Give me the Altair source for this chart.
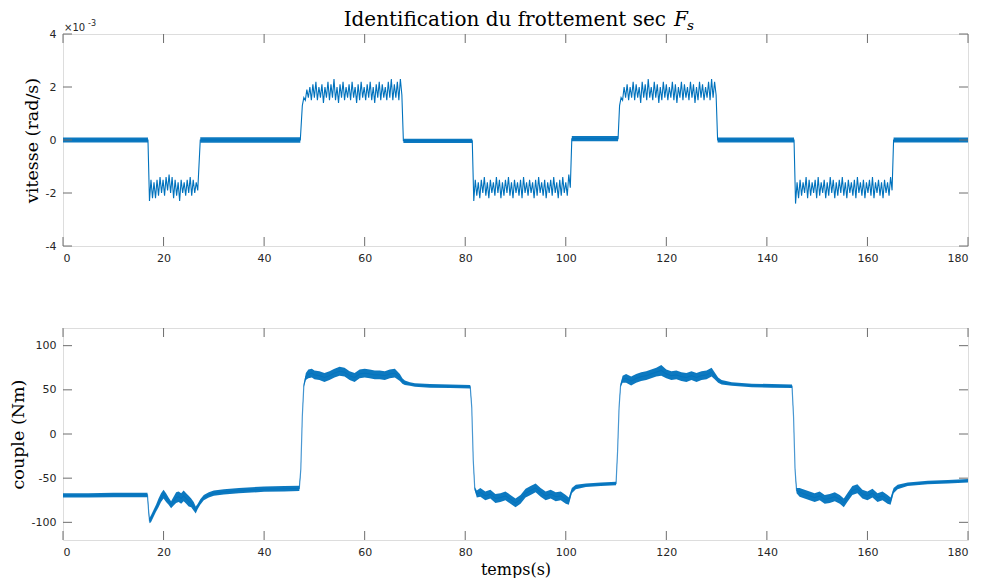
import altair as alt
import pandas as pd

BLUE = "#0072BD"
FRAME = "#6e6e6e"
LABEL = "#262626"
SERIF = "DejaVu Serif"
SANS = "DejaVu Sans"

# ---------------- data: top panel (vitesse, x 1e-3 rad/s) ----------------
x_ticks = [0, 20, 40, 60, 80, 100, 120, 140, 160, 180]
top_y_ticks = [-4, -2, 0, 2, 4]
bot_y_ticks = [-100, -50, 0, 50, 100]

quiet_start = [0.0, 27.3, 67.7, 101.2, 130.2, 165.2]
quiet_end = [16.9, 47.2, 81.4, 110.4, 145.4, 180.0]
quiet_level = [0.0, 0.0, -0.03, 0.05, 0.0, 0.0]
quiet_noise = [0.09, 0.1, 0.08, 0.1, 0.09, 0.09]

osc_step = 0.3
osc_start = [17.2, 47.6, 81.7, 110.7, 145.7]
osc_A = [-2.3, -1.5, -2.2, -1.6, -2.2, -1.5, -2.1, -1.4, -2.0, -1.5,
         -2.1, -1.4, -1.9, -1.3, -2.0, -1.4, -2.2, -1.5, -2.1, -1.6,
         -2.3, -1.5, -2.0, -1.6, -2.1, -1.5, -2.0, -1.4, -2.1, -1.5,
         -2.0, -1.6, -1.9]
osc_B = [1.3, 1.6, 1.5, 1.9, 1.6, 2.0, 1.5, 2.1, 1.6, 2.2,
         1.5, 2.0, 1.6, 2.1, 1.4, 2.0, 1.6, 2.2, 1.5, 2.1,
         1.6, 2.3, 1.5, 2.0, 1.4, 2.1, 1.6, 2.2, 1.5, 2.0,
         1.6, 2.1, 1.5, 2.2, 1.6, 2.0, 1.4, 2.1, 1.5, 2.2,
         1.6, 2.0, 1.5, 2.1, 1.6, 2.2, 1.5, 2.0, 1.4, 2.1,
         1.6, 2.2, 1.5, 2.1, 1.6, 2.0, 1.5, 2.2, 1.6, 2.3,
         1.5, 2.1, 1.6, 2.2, 1.5, 2.3, 1.7]
osc_C = [-2.3, -1.5, -2.1, -1.6, -2.2, -1.5, -2.0, -1.4, -2.1, -1.6,
         -2.2, -1.5, -2.0, -1.6, -2.1, -1.4, -2.0, -1.5, -2.2, -1.6,
         -2.1, -1.5, -2.0, -1.4, -2.1, -1.6, -2.2, -1.5, -2.0, -1.6,
         -2.1, -1.5, -2.2, -1.4, -2.0, -1.6, -2.1, -1.5, -2.0, -1.6,
         -2.2, -1.5, -2.1, -1.4, -2.0, -1.6, -2.1, -1.5, -2.2, -1.6,
         -2.0, -1.5, -2.1, -1.4, -2.0, -1.6, -2.2, -1.5, -2.1, -1.4,
         -2.0, -1.6, -2.1, -1.3, -1.8]
osc_D = [1.3, 1.6, 1.5, 2.0, 1.6, 2.1, 1.5, 2.0, 1.6, 2.2,
         1.5, 2.1, 1.6, 2.0, 1.4, 2.2, 1.6, 2.1, 1.5, 2.3,
         1.6, 2.0, 1.5, 2.2, 1.6, 2.1, 1.4, 2.0, 1.5, 2.2,
         1.6, 2.1, 1.5, 2.0, 1.6, 2.2, 1.5, 2.1, 1.4, 2.0,
         1.6, 2.2, 1.5, 2.1, 1.6, 2.0, 1.5, 2.2, 1.6, 2.1,
         1.4, 2.0, 1.5, 2.2, 1.6, 2.1, 1.5, 2.0, 1.6, 2.2,
         1.5, 2.3, 1.6, 2.2, 1.7]
osc_E = [-2.4, -1.6, -2.2, -1.5, -2.1, -1.6, -2.0, -1.4, -2.2, -1.5,
         -2.1, -1.6, -2.0, -1.5, -2.2, -1.4, -2.1, -1.6, -2.0, -1.5,
         -2.2, -1.6, -2.1, -1.4, -2.0, -1.5, -2.2, -1.6, -2.1, -1.5,
         -2.0, -1.4, -2.1, -1.6, -2.2, -1.5, -2.0, -1.6, -2.1, -1.5,
         -2.2, -1.4, -2.0, -1.6, -2.1, -1.5, -2.2, -1.6, -2.0, -1.5,
         -2.1, -1.4, -2.2, -1.6, -2.0, -1.5, -2.1, -1.6, -2.2, -1.5,
         -2.0, -1.6, -2.1, -1.4, -1.9]
osc_values = [osc_A, osc_B, osc_C, osc_D, osc_E]

# ---------------- data: bottom panel (couple, Nm) ----------------
cpl_t = [0, 5, 10, 16.8, 17.0, 17.2, 17.5, 18, 18.5, 19, 19.5, 20, 20.5, 21, 21.5,
         22, 22.5, 23, 23.5, 24, 24.5, 25, 25.5, 26, 26.4, 26.8, 27.3, 28, 29, 30,
         32, 35, 40, 44, 47.0, 47.3, 47.6, 47.9, 48.3, 48.8, 49.5, 50, 51, 52, 53,
         54, 55, 56, 57, 58, 59, 60, 61, 62, 63, 64, 65, 66, 67, 67.5, 68, 69, 70,
         73, 77, 81, 81.3, 81.6, 81.9, 82.3, 83, 84, 85, 86, 87, 88, 89, 90, 91,
         92, 93, 94, 95, 96, 97, 98, 99, 100, 100.6, 101.2, 102, 104, 107, 110,
         110.3, 110.6, 110.9, 111.3, 112, 113, 114, 115, 116, 117, 118, 119, 120,
         121, 122, 123, 124, 125, 126, 127, 128, 129, 129.6, 130.3, 131, 133, 137,
         141, 145, 145.3, 145.6, 145.9, 146.5, 147.5, 148.5, 149.5, 150.5, 151.5,
         152.5, 153.5, 154.5, 155.3, 156, 157, 158, 159, 160, 161, 162, 163, 164,
         164.6, 165.2, 166, 168, 172, 176, 180]
cpl_mid = [-69.5, -69.5, -69, -69, -85, -98, -96, -90, -84, -78, -72, -68, -72, -76, -80,
           -76, -72, -71, -73, -70, -73, -76, -78, -82, -86, -82, -77, -72, -69, -67,
           -65.5, -64, -62.5, -62, -61.5, -40, 20, 55, 65, 68, 69, 67, 66, 64, 66,
           69, 71, 70, 66, 64, 68, 69, 68, 67, 67, 66, 68, 69, 64, 60, 58, 56.5, 55.5,
           54.5, 54, 53.5, 30, -30, -62, -68, -66, -70, -68, -73, -72, -70, -74, -78, -74,
           -67, -64, -61, -66, -70, -68, -71, -70, -74, -76, -64, -60, -58, -57, -56,
           -20, 30, 55, 62, 63, 60, 63, 65, 66, 68, 70, 72, 68,
           66, 67, 65, 64, 66, 64, 66, 67, 70, 66, 61, 58.5, 56.5, 55,
           54.5, 54, 20, -40, -64, -66, -68, -70, -72, -70, -74,
           -73, -71, -74, -78, -72, -64, -62, -68, -70, -67, -72, -70, -74,
           -76, -64, -60, -57, -55, -54, -53]
cpl_half = [2.5, 2.5, 2.5, 2.5, 3, 3, 4, 4, 4, 5, 5, 5, 5, 4, 4,
            5, 6, 6, 6, 6, 6, 6, 5, 5, 4, 3, 3, 3, 3, 3,
            3, 3, 3, 3, 3, 1, 1, 2, 4, 5, 5, 5, 5, 5, 5,
            5, 5, 5, 5, 5, 5, 5, 5, 5, 5, 5, 5, 5, 4, 3, 2.5, 2, 2,
            2, 2, 2, 1, 1, 2, 4, 5, 5, 5, 5, 5, 5, 5, 5, 5,
            5, 5, 5, 5, 5, 5, 5, 5, 5, 4, 3, 2.5, 2, 2, 2,
            1, 1, 2, 4, 5, 5, 5, 5, 5, 5, 5, 6, 5,
            5, 5, 5, 5, 5, 5, 5, 5, 5, 4, 3, 2.5, 2, 2,
            2, 2, 1, 1, 3, 5, 5, 5, 5, 5, 5,
            5, 5, 5, 5, 5, 5, 5, 5, 5, 5, 5, 5, 5,
            4, 3, 2.5, 2, 2, 2, 2]

# ---------------- build tables ----------------
rows = []
for s, e, lev in zip(quiet_start, quiet_end, quiet_level):
    rows.append({"t": s, "v": lev})
    rows.append({"t": e, "v": lev})
for s, vals in zip(osc_start, osc_values):
    for i, v in enumerate(vals):
        rows.append({"t": round(s + i * osc_step, 3), "v": v})
top_line = pd.DataFrame(rows).sort_values("t")

band_rows = []
for k, (s, e, lev, n) in enumerate(zip(quiet_start, quiet_end, quiet_level, quiet_noise)):
    band_rows.append({"t": s, "lo": lev - n, "hi": lev + n, "seg": k})
    band_rows.append({"t": e, "lo": lev - n, "hi": lev + n, "seg": k})
top_band = pd.DataFrame(band_rows)

bot = pd.DataFrame({"t": cpl_t, "v": cpl_mid, "h": cpl_half})
bot["lo"] = bot["v"] - bot["h"]
bot["hi"] = bot["v"] + bot["h"]

W, H = 905, 212
TICK = 9
xscale = alt.Scale(domain=[0, 180], nice=False, zero=False)


def x_axis(title):
    kw = dict(values=x_ticks, labelExpr="'' + datum.value", labelPadding=6,
              labelFont=SANS, labelFontSize=11, labelColor=LABEL,
              ticks=False, domain=False, grid=False, tickSize=0)
    if title:
        kw.update(title=title, titleFont=SERIF, titleFontSize=16,
                  titleFontWeight="normal", titleColor="#000000", titlePadding=4)
    else:
        kw.update(title=None)
    return alt.Axis(**kw)


def y_axis(title, ticks):
    return alt.Axis(values=ticks, labelExpr="'' + datum.value", labelPadding=7,
                    labelFont=SANS, labelFontSize=11, labelColor=LABEL,
                    ticks=False, domain=False, grid=False, tickSize=0,
                    title=title, titleFont=SERIF, titleFontSize=17.5,
                    titleFontWeight="normal", titleColor="#000000", titlePadding=4)


def tick_layers(yticks, yscale):
    xt = pd.DataFrame({"t": x_ticks})
    yt = pd.DataFrame({"v": yticks})
    rule = dict(color=FRAME, strokeWidth=1)
    return [
        alt.Chart(xt).mark_rule(**rule).encode(x=alt.X("t:Q", scale=xscale), y=alt.value(H), y2=alt.value(H - TICK)),
        alt.Chart(xt).mark_rule(**rule).encode(x=alt.X("t:Q", scale=xscale), y=alt.value(0), y2=alt.value(TICK)),
        alt.Chart(yt).mark_rule(**rule).encode(y=alt.Y("v:Q", scale=yscale), x=alt.value(0), x2=alt.value(TICK)),
        alt.Chart(yt).mark_rule(**rule).encode(y=alt.Y("v:Q", scale=yscale), x=alt.value(W), x2=alt.value(W - TICK)),
    ]


one = pd.DataFrame({"a": [0]})

# ---------------- top panel ----------------
ys_top = alt.Scale(domain=[-4, 4], nice=False, zero=False)
top_bandc = alt.Chart(top_band).mark_area(color=BLUE, opacity=0.95).encode(
    x=alt.X("t:Q", scale=xscale, axis=x_axis(None)),
    y=alt.Y("lo:Q", scale=ys_top, axis=y_axis("vitesse (rad/s)", top_y_ticks)),
    y2="hi:Q",
    detail="seg:N",
)
top_linec = alt.Chart(top_line).mark_line(color=BLUE, strokeWidth=1.1).encode(
    x=alt.X("t:Q", scale=xscale),
    y=alt.Y("v:Q", scale=ys_top),
)
exp1 = alt.Chart(one).mark_text(text="×10", font=SANS, fontSize=10, color=LABEL,
                                 align="left", baseline="alphabetic").encode(
    x=alt.value(1), y=alt.value(-3))
exp2 = alt.Chart(one).mark_text(text="-3", font=SANS, fontSize=8, color=LABEL,
                                 align="left", baseline="alphabetic").encode(
    x=alt.value(25), y=alt.value(-8))
title_main = alt.Chart(one).mark_text(text="Identification du frottement sec", font=SERIF,
                                       fontSize=20, color="#000000", align="right",
                                       baseline="alphabetic").encode(
    x=alt.value(603), y=alt.value(-8))
title_F = alt.Chart(one).mark_text(text="F", font=SERIF, fontSize=20, fontStyle="italic",
                                    color="#000000", align="left", baseline="alphabetic").encode(
    x=alt.value(611), y=alt.value(-8))
title_s = alt.Chart(one).mark_text(text="s", font=SERIF, fontSize=13.5, fontStyle="italic",
                                    color="#000000", align="left", baseline="alphabetic").encode(
    x=alt.value(624), y=alt.value(-4))

top = alt.layer(top_bandc, top_linec, *tick_layers(top_y_ticks, ys_top),
                exp1, exp2, title_main, title_F, title_s).properties(width=W, height=H)

# ---------------- bottom panel ----------------
ys_bot = alt.Scale(domain=[-120, 120], nice=False, zero=False)
bot_band = alt.Chart(bot).mark_area(color=BLUE, opacity=0.95).encode(
    x=alt.X("t:Q", scale=xscale, axis=x_axis("temps(s)")),
    y=alt.Y("lo:Q", scale=ys_bot, axis=y_axis("couple (Nm)", bot_y_ticks)),
    y2="hi:Q",
)
bot_line = alt.Chart(bot).mark_line(color="#4f9bd4", strokeWidth=1.2).encode(
    x=alt.X("t:Q", scale=xscale),
    y=alt.Y("v:Q", scale=ys_bot),
)
bottom = alt.layer(bot_line, bot_band, *tick_layers(bot_y_ticks, ys_bot)).properties(width=W, height=H)

chart = alt.vconcat(top, bottom, spacing=63).properties(
    padding={"left": 0, "top": 1, "right": 0, "bottom": 0}
).configure_view(stroke=FRAME, strokeWidth=1).configure(background="white")

chart.save("out.html", embed_options={"renderer": "svg", "actions": False})
